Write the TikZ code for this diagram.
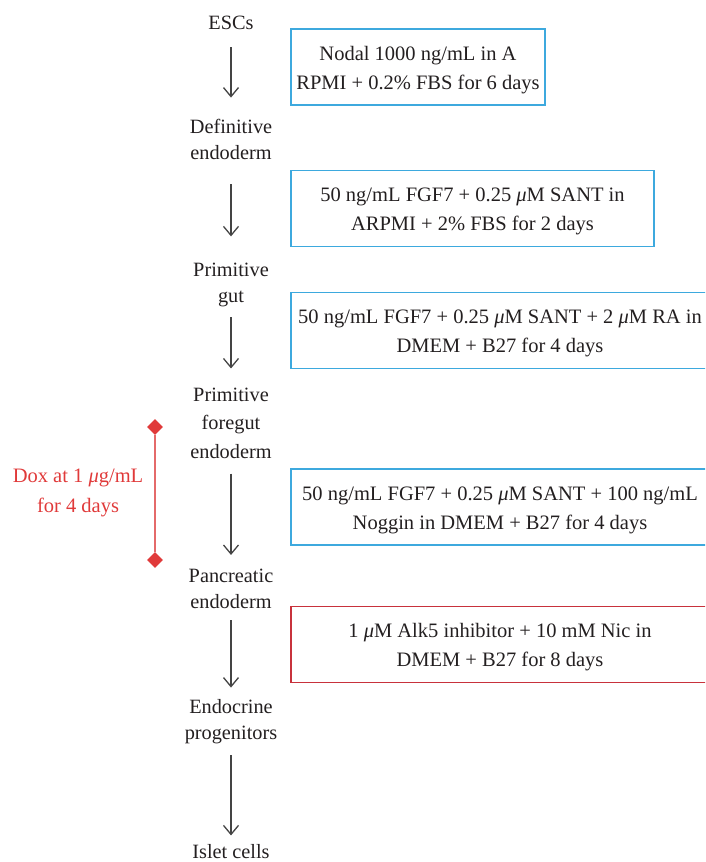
\documentclass[tikz,border=0pt]{standalone}
\usepackage{fontspec}
\setmainfont{Liberation Serif}
\usetikzlibrary{arrows.meta,shapes.geometric}
\definecolor{boxblue}{HTML}{3DA9DE}
\definecolor{boxred}{HTML}{C8323C}
\definecolor{doxred}{HTML}{E03A3A}
\definecolor{barred}{HTML}{E46A6A}
\definecolor{arrgray}{HTML}{444444}
\definecolor{ink}{HTML}{231F20}
\newcommand{\mus}{{\itshape μ}}
\newcommand{\topstrut}{\rule{0pt}{19.8pt}}
\begin{document}
\begin{tikzpicture}[x=1pt,y=-1pt,
  lbl/.style={font=\fontsize{20.3}{26}\selectfont, align=center, inner sep=0pt, text=ink},
  cond/.style={draw=boxblue, line width=1.5pt, font=\fontsize{20.5}{29}\selectfont, align=center,
    minimum height=76pt, inner sep=0pt, text=ink},
  arr/.style={draw=arrgray, line width=1.3pt, -{Straight Barb[length=9pt,width=15pt]}},
  dia/.style={diamond, fill=doxred, minimum width=16pt, minimum height=16pt, inner sep=0pt},
]
\useasboundingbox (0,0) rectangle (705,862);
\clip (0,0) rectangle (705,862);

% stage labels
\node[lbl, anchor=base] (esc) at (231,29) {ESCs};
\node[lbl] (def) at (231,139) {Definitive\\endoderm};
\node[lbl] (pg) at (231,284.5) {Primitive\\gut};
\node[lbl, font=\fontsize{20.3}{28.5}\selectfont] (pfe) at (231,423) {Primitive\\foregut\\endoderm};
\node[lbl] (pe) at (231,589) {Pancreatic\\endoderm};
\node[lbl] (ep) at (231,722) {Endocrine\\progenitors};
\node[lbl, anchor=base] (ic) at (231,858) {Islet cells};

% arrows
\draw[arr, shorten <=17.7pt, shorten >=21pt] (esc) -- (def);
\draw[arr, shorten <=25pt, shorten >=26pt] (def) -- (pg);
\draw[arr, shorten <=10.5pt, shorten >=19pt] (pg) -- (pfe);
\draw[arr, shorten <=15pt, shorten >=14pt] (pfe) -- (pe);
\draw[arr, shorten <=11pt, shorten >=12pt] (pe) -- (ep);
\draw[arr, shorten <=11pt, shorten >=8.3pt] (ep) -- (ic);

% condition boxes
\node[cond, minimum width=254pt] (c1) at (418,67)
  {\topstrut Nodal 1000 ng/mL in A\\RPMI + 0.2\% FBS for 6 days};
\node[cond, minimum width=363pt] (c2) at (472.5,208.5)
  {\topstrut 50 ng/mL FGF7 + 0.25 \mus M SANT in\\ARPMI + 2\% FBS for 2 days};
\node[cond, minimum width=418pt] (c3) at (500,330.5)
  {\topstrut 50 ng/mL FGF7 + 0.25 \mus M SANT + 2 \mus M RA in\\DMEM + B27 for 4 days};
\node[cond, minimum width=418pt] (c4) at (500,507)
  {\topstrut 50 ng/mL FGF7 + 0.25 \mus M SANT + 100 ng/mL\\Noggin in DMEM + B27 for 4 days};
\node[cond, draw=boxred, minimum width=418pt] (c5) at (500,644.5)
  {\topstrut 1 \mus M Alk5 inhibitor + 10 mM Nic in\\DMEM + B27 for 8 days};

% Dox bracket
\node[dia] (dtop) at (155,427) {};
\node[dia] (dbot) at (155,560) {};
\draw[barred, line width=2pt] (dtop) -- (dbot);
\node[lbl, font=\fontsize{20.5}{29.5}\selectfont, text=doxred] (dox) at (78,493)
  {Dox at 1 \mus g/mL\\for 4 days};
\end{tikzpicture}
\end{document}
